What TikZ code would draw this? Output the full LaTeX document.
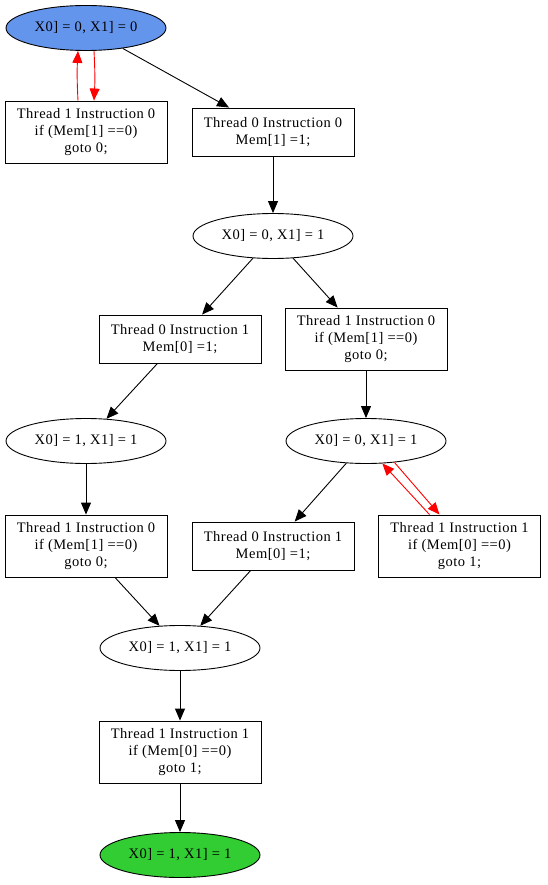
\documentclass[tikz,border=0pt]{standalone}
\usepackage{fontspec}
\setmainfont{Liberation Serif}[LetterSpace=3.5]
\usetikzlibrary{shapes.geometric,arrows.meta}
\definecolor{stateblue}{HTML}{6495ED}
\definecolor{stategreen}{HTML}{32CD32}
\begin{document}
\begin{tikzpicture}[x=1pt,y=-1pt,
  every node/.style={font=\fontsize{14.5}{17}\selectfont, align=center, inner sep=0pt},
  state/.style={ellipse, draw, line width=0.9pt, minimum width=160pt, minimum height=45pt},
  instr/.style={rectangle, draw, line width=0.9pt, minimum width=162pt, minimum height=48pt},
  instrlong/.style={instr, minimum height=62pt},
  edge/.style={-{Triangle[length=12pt,width=10pt]}, line width=0.9pt},
  loop/.style={edge, red}]
\useasboundingbox (0,0) rectangle (547,885);

% states and instructions
\node[state, fill=stateblue] (s00) at (86,28) {X0] = 0, X1] = 0};
\node[instrlong] (ta) at (86,132) {Thread 1 Instruction 0\\if (Mem[1] ==0)\\goto 0;};
\node[instr] (tb) at (273,132) {Thread 0 Instruction 0\\Mem[1] =1;};
\node[state] (s01) at (273,236) {X0] = 0, X1] = 1};
\node[instr] (tc) at (180,339) {Thread 0 Instruction 1\\Mem[0] =1;};
\node[instrlong] (td) at (366,339) {Thread 1 Instruction 0\\if (Mem[1] ==0)\\goto 0;};
\node[state] (s11a) at (86,441) {X0] = 1, X1] = 1};
\node[state] (s01b) at (366,441) {X0] = 0, X1] = 1};
\node[instrlong] (te) at (86,546) {Thread 1 Instruction 0\\if (Mem[1] ==0)\\goto 0;};
\node[instr] (tf) at (273,546) {Thread 0 Instruction 1\\Mem[0] =1;};
\node[instrlong] (tg) at (459.5,546) {Thread 1 Instruction 1\\if (Mem[0] ==0)\\goto 1;};
\node[state] (s11b) at (180,648) {X0] = 1, X1] = 1};
\node[instrlong] (th) at (180,752) {Thread 1 Instruction 1\\if (Mem[0] ==0)\\goto 1;};
\node[state, fill=stategreen] (s11c) at (180,855) {X0] = 1, X1] = 1};

% transitions
\draw[edge] (s00) -- (tb);
\draw[loop] ([xshift=-8pt]ta.north) to[bend left=3] ([xshift=-8pt]s00.south);
\draw[loop] ([xshift=8pt]s00.south) to[bend left=3] ([xshift=8pt]ta.north);
\draw[edge] (tb) -- (s01);
\draw[edge] (s01) -- (tc);
\draw[edge] (s01) -- (td);
\draw[edge] (tc) -- (s11a);
\draw[edge] (td) -- (s01b);
\draw[edge] (s11a) -- (te);
\draw[edge] (s01b) -- (tf);
\draw[loop] ([xshift=-30pt]tg.north) -- (s01b.-54);
\draw[loop] (s01b.-37) -- ([xshift=-20pt]tg.north);
\draw[edge] (te) -- (s11b);
\draw[edge] (tf) -- (s11b);
\draw[edge] (s11b) -- (th);
\draw[edge] (th) -- (s11c);
\end{tikzpicture}
\end{document}
